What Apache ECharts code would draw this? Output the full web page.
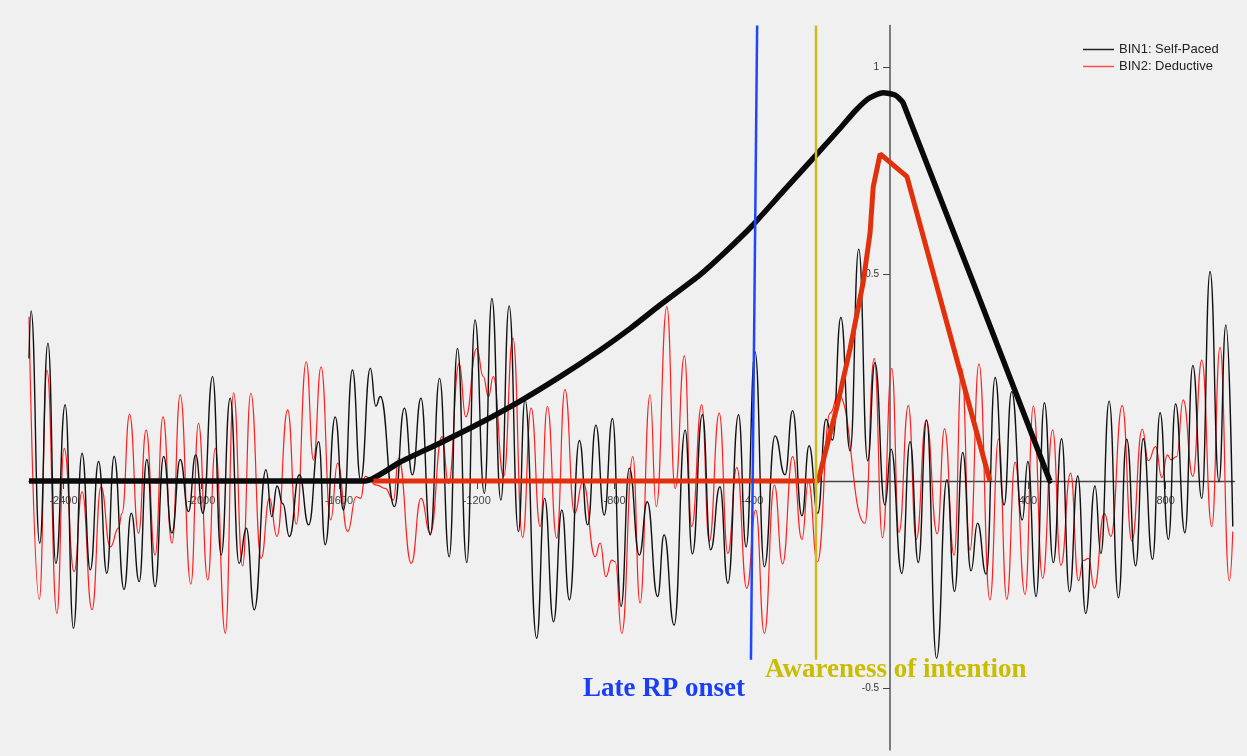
<!DOCTYPE html>
<html><head><meta charset="utf-8">
<script src="https://cdn.jsdelivr.net/npm/echarts@6/dist/echarts.min.js"></script>
<style>html,body{margin:0;padding:0;background:#f0f0f0}#c{width:1247px;height:756px}</style>
</head><body><div id="c"></div>
<script>
const xTicks = [-2400,-2000,-1600,-1200,-800,-400,400,800];
const yTicks = [-0.5,0.5,1];
const legendNames = ['BIN1: Self-Paced','BIN2: Deductive'];

const bin1 = [[-2500,0.296],[-2494,0.411],[-2469,-0.150],[-2445,0.333],[-2422,-0.199],[-2395,0.184],[-2371,-0.356],[-2346,0.067],[-2322,-0.215],[-2298,0.047],[-2274,-0.223],[-2253,0.059],[-2224,-0.262],[-2203,-0.078],[-2180,-0.243],[-2158,0.052],[-2134,-0.255],[-2109,0.059],[-2085,-0.126],[-2061,0.052],[-2037,-0.074],[-2016,0.063],[-1995,-0.078],[-1967,0.252],[-1942,-0.179],[-1916,0.200],[-1890,-0.199],[-1869,-0.114],[-1846,-0.311],[-1812,0.027],[-1795,-0.086],[-1780,-0.012],[-1763,-0.055],[-1744,-0.134],[-1715,0.015],[-1688,-0.106],[-1659,0.095],[-1640,-0.154],[-1611,0.155],[-1587,-0.070],[-1561,0.268],[-1537,0.002],[-1509,0.272],[-1493,0.181],[-1480,0.204],[-1439,-0.062],[-1410,0.176],[-1387,0.015],[-1362,0.200],[-1335,-0.130],[-1308,0.248],[-1280,-0.183],[-1256,0.320],[-1229,-0.197],[-1205,0.389],[-1178,-0.030],[-1156,0.441],[-1130,-0.046],[-1106,0.423],[-1079,-0.122],[-1060,0.196],[-1026,-0.380],[-1003,-0.042],[-977,-0.340],[-953,-0.070],[-931,-0.287],[-902,0.098],[-878,-0.106],[-854,0.135],[-830,-0.082],[-806,0.151],[-781,-0.303],[-757,0.031],[-728,-0.179],[-705,-0.050],[-675,-0.279],[-656,-0.130],[-627,-0.348],[-595,0.123],[-574,-0.176],[-545,0.160],[-521,-0.166],[-494,-0.014],[-471,-0.247],[-440,0.160],[-418,-0.159],[-392,0.312],[-365,-0.207],[-334,0.109],[-305,0.015],[-283,0.170],[-256,-0.084],[-235,0.085],[-210,-0.078],[-186,0.149],[-167,0.099],[-143,0.395],[-116,0.073],[-91,0.560],[-65,0.049],[-44,0.286],[-15,-0.058],[3,0.077],[34,-0.223],[58,0.095],[82,-0.197],[106,0.147],[135,-0.428],[165,0.003],[187,-0.267],[211,0.069],[235,-0.217],[254,-0.102],[279,-0.225],[305,0.250],[331,-0.058],[353,0.216],[384,-0.094],[400,0.047],[424,-0.279],[448,0.189],[474,-0.197],[498,0.102],[521,-0.267],[545,0.012],[568,-0.320],[595,-0.012],[612,-0.175],[636,0.193],[663,-0.282],[687,0.101],[713,-0.205],[735,0.102],[762,-0.189],[784,0.165],[808,-0.141],[829,0.186],[856,-0.125],[879,0.279],[905,-0.042],[929,0.506],[955,-0.002],[975,0.377],[995,-0.110]];

const bin2 = [[-2500,0.397],[-2470,-0.286],[-2448,0.268],[-2419,-0.320],[-2398,0.079],[-2369,-0.219],[-2346,-0.026],[-2317,-0.311],[-2291,-0.014],[-2264,-0.159],[-2240,-0.114],[-2230,-0.078],[-2208,0.161],[-2182,-0.126],[-2160,0.123],[-2134,-0.179],[-2111,0.155],[-2085,-0.150],[-2061,0.208],[-2030,-0.249],[-2008,0.139],[-1981,-0.239],[-1959,0.079],[-1930,-0.368],[-1906,0.213],[-1880,-0.205],[-1856,0.212],[-1826,-0.187],[-1802,-0.042],[-1780,-0.134],[-1749,0.172],[-1724,-0.104],[-1695,0.288],[-1674,0.051],[-1652,0.276],[-1624,-0.094],[-1604,0.043],[-1575,-0.122],[-1550,-0.038],[-1537,-0.042],[-1524,0.011],[-1490,-0.010],[-1466,-0.018],[-1442,-0.046],[-1427,0.055],[-1390,-0.199],[-1362,-0.042],[-1335,-0.126],[-1301,0.107],[-1282,-0.006],[-1251,0.284],[-1232,0.155],[-1200,0.320],[-1181,0.252],[-1166,0.204],[-1152,0.252],[-1122,0.011],[-1095,0.345],[-1067,-0.136],[-1042,0.176],[-1016,-0.110],[-995,0.180],[-968,-0.138],[-944,0.221],[-916,-0.078],[-892,-0.002],[-856,-0.183],[-842,-0.150],[-825,-0.231],[-808,-0.191],[-798,-0.195],[-779,-0.368],[-747,0.059],[-726,-0.295],[-697,0.208],[-679,-0.062],[-648,0.421],[-624,-0.018],[-597,0.302],[-576,-0.110],[-547,0.184],[-525,-0.146],[-496,0.164],[-471,-0.175],[-445,0.033],[-416,-0.259],[-390,-0.070],[-365,-0.368],[-336,-0.010],[-312,-0.200],[-283,0.059],[-256,-0.141],[-237,-0.002],[-211,-0.195],[-174,0.164],[-150,0.208],[-73,-0.102],[-46,0.296],[-22,-0.137],[5,0.272],[26,-0.124],[53,0.182],[76,-0.141],[105,0.147],[137,-0.128],[158,0.126],[186,-0.179],[208,0.272],[232,-0.167],[258,0.283],[290,-0.287],[315,0.102],[339,-0.286],[363,0.045],[392,-0.274],[416,0.181],[443,-0.235],[472,0.123],[496,-0.204],[524,0.019],[547,-0.241],[561,-0.192],[576,-0.187],[593,-0.259],[622,-0.078],[641,-0.134],[674,0.182],[702,-0.145],[732,0.125],[750,0.049],[771,0.083],[789,0.008],[805,0.063],[816,0.051],[832,0.059],[851,0.196],[879,0.011],[905,0.292],[934,-0.110],[958,0.323],[985,-0.241],[995,-0.122]];

const rpSelfPaced = [[-2500,0],[-1524,0],[-1422,0.046],[-1306,0.092],[-1190,0.140],[-1074,0.193],[-958,0.252],[-842,0.316],[-755,0.368],[-668,0.425],[-552,0.498],[-480,0.552],[-401,0.616],[-310,0.700],[-215,0.787],[-145,0.852],[-100,0.895],[-60,0.925],[-20,0.938],[15,0.932],[38,0.913],[464,0]];
const rpDeductive = [[-1500,0],[-209,0],[-154,0.18],[-116,0.32],[-78,0.48],[-58,0.60],[-49,0.71],[-29,0.79],[49,0.735],[290,0]];
const lateRPOnset = [[-386,1.1],[-404,-0.432]];
const awarenessLine = [[-215,1.1],[-215,-0.432]];
const annotations = ['Late RP onset','Awareness of intention'];

const X_MIN = -2500, X_MAX = 1000, Y_MIN = -0.65, Y_MAX = 1.1;
const G = {left:29, right:12.5, top:25.6, bottom:5.9};
const W = 1247, H = 756;
const gw = W - G.left - G.right, gh = H - G.top - G.bottom;
// offsets that move the axes onto the zero lines
const xAxisOffset = -(gh * (0 - Y_MIN) / (Y_MAX - Y_MIN));
const yAxisOffset = -(gw * (0 - X_MIN) / (X_MAX - X_MIN));

const chart = echarts.init(document.getElementById('c'), null, {renderer:'canvas'});
const noiseStyle = {type:'line', symbol:'none', showSymbol:false, smooth:0.5, smoothMonotone:'x', animation:false};
const font = '"Liberation Sans", Arial, sans-serif';
chart.setOption({
  backgroundColor:'#f0f0f0',
  animation:false,
  grid:Object.assign({containLabel:false, outerBoundsMode:'none'}, G),
  legend:{
    data:[
      {name:legendNames[0], icon:'rect', itemStyle:{color:'#222'}},
      {name:legendNames[1], icon:'rect', itemStyle:{color:'#ff5050'}}
    ],
    orient:'vertical', left:1078, top:38, itemWidth:31, itemHeight:1.5, itemGap:4,
    textStyle:{fontSize:13, color:'#222', fontFamily:font}
  },
  xAxis:{
    type:'value', min:X_MIN, max:X_MAX, position:'bottom', offset:xAxisOffset,
    splitLine:{show:false},
    axisLine:{onZero:false, lineStyle:{color:'#444', width:1.3}},
    axisTick:{customValues:xTicks, length:8, lineStyle:{color:'#444'}},
    axisLabel:{customValues:xTicks, formatter:v=>String(v), fontSize:11, color:'#444', margin:14, fontFamily:font}
  },
  yAxis:{
    type:'value', min:Y_MIN, max:Y_MAX, position:'left', offset:yAxisOffset,
    splitLine:{show:false},
    axisLine:{onZero:false, lineStyle:{color:'#555', width:1.5}},
    axisTick:{customValues:yTicks, length:7, lineStyle:{color:'#444'}},
    axisLabel:{customValues:yTicks, formatter:v=>String(v), fontSize:10, color:'#333', margin:11, fontFamily:font}
  },
  series:[
    Object.assign({}, noiseStyle, {name:legendNames[1], data:bin2, z:2, lineStyle:{color:'#ff1f1f', width:1.2}, itemStyle:{color:'#ff1f1f'}}),
    Object.assign({}, noiseStyle, {name:legendNames[0], data:bin1, z:3, lineStyle:{color:'#111', width:1.4}, itemStyle:{color:'#111'}}),
    {type:'line', name:'RP self-paced', data:rpSelfPaced, symbol:'none', smooth:0.2, z:4,
      lineStyle:{color:'#0a0a0a', width:5.5}},
    {type:'line', name:'RP deductive', data:rpDeductive, symbol:'none', z:5,
      lineStyle:{color:'#e2300c', width:5}},
    {type:'line', name:'late RP onset', data:lateRPOnset, symbol:'none', z:6,
      lineStyle:{color:'#1f45ff', width:2.5}},
    {type:'line', name:'awareness', data:awarenessLine, symbol:'none', z:6,
      lineStyle:{color:'#c9bd1e', width:2.5}}
  ],
  graphic:[
    {type:'text', x:583, y:689, z:10, style:{text:annotations[0], fill:'#1a3ef5',
      font:'bold 27px "Liberation Serif", "Times New Roman", serif', verticalAlign:'middle', align:'left'}},
    {type:'text', x:765, y:670, z:10, style:{text:annotations[1], fill:'#c8bd00',
      font:'bold 27px "Liberation Serif", "Times New Roman", serif', verticalAlign:'middle', align:'left'}}
  ]
});
</script></body></html>
